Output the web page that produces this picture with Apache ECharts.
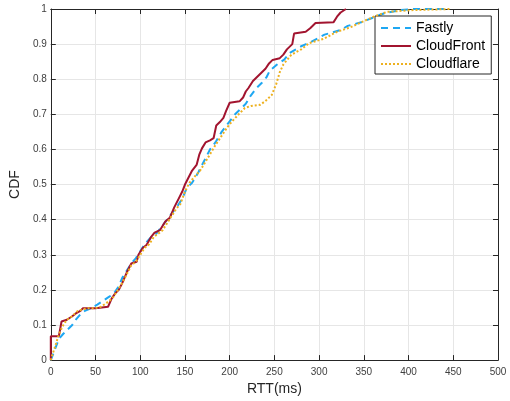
<!DOCTYPE html>
<html>
<head>
<meta charset="utf-8">
<script src="https://cdn.jsdelivr.net/npm/echarts@6/dist/echarts.min.js"></script>
<style>
html,body{margin:0;padding:0;background:#fff;}
#chart{width:510px;height:401px;}
</style>
</head>
<body>
<div id="chart"></div>
<script>
// ---- data (RTT in ms, CDF) ----
const seriesNames = ['Fastly', 'CloudFront', 'Cloudflare'];
const xTicks = [0, 50, 100, 150, 200, 250, 300, 350, 400, 450, 500];
const yTicks = [0, 0.1, 0.2, 0.3, 0.4, 0.5, 0.6, 0.7, 0.8, 0.9, 1];

const fastlyRTT = [0,3,6,9,14,20,24,28,33,38,45,52,58,65,68,72,76,80,85,90,95,100,105,112,118,124,130,136,142,147,152,158,165,171,178,184,191,200,206,212,218,224,230,236,241,245,252,261,267,280,290,306,324,332,347,360,373,391,405,445];
const fastlyCDF = [0,0.02,0.04,0.06,0.075,0.09,0.1,0.115,0.13,0.14,0.148,0.158,0.168,0.18,0.185,0.195,0.21,0.235,0.255,0.275,0.29,0.31,0.33,0.35,0.36,0.38,0.4,0.42,0.44,0.46,0.49,0.505,0.535,0.565,0.6,0.62,0.65,0.68,0.7,0.715,0.73,0.755,0.775,0.79,0.805,0.825,0.84,0.856,0.875,0.894,0.905,0.927,0.94,0.952,0.962,0.975,0.988,0.997,1.0,1.0];

const cloudfrontRTT = [0,0,9,12,18,24,28,33,36,50,52,64,68,72,76,80,85,90,96,98,103,107,112,116,122,128,133,138,143,147,150,154,158,163,166,169,173,178,182,185,189,193,196,200,211,215,218,221,226,230,234,240,244,248,256,260,264,270,272,285,290,296,316,320,324,330];
const cloudfrontCDF = [0,0.068,0.068,0.11,0.115,0.125,0.133,0.14,0.148,0.148,0.152,0.152,0.175,0.19,0.2,0.22,0.25,0.275,0.28,0.3,0.32,0.328,0.35,0.363,0.37,0.395,0.405,0.435,0.46,0.48,0.5,0.52,0.54,0.556,0.585,0.603,0.62,0.626,0.632,0.668,0.678,0.69,0.71,0.733,0.737,0.748,0.765,0.775,0.795,0.805,0.815,0.83,0.845,0.855,0.86,0.87,0.885,0.9,0.93,0.935,0.945,0.96,0.962,0.978,0.99,1.0];

const cloudflareRTT = [0,2,5,8,11,14,18,24,30,36,42,50,56,62,66,70,75,80,85,90,95,100,105,110,115,120,125,130,135,140,145,150,155,160,167,173,184,190,197,202,210,217,224,234,240,247,252,256,260,269,280,289,305,320,335,347,361,376,406,447];
const cloudflareCDF = [0,0.017,0.04,0.065,0.085,0.1,0.115,0.125,0.14,0.145,0.148,0.148,0.152,0.162,0.17,0.18,0.2,0.22,0.245,0.27,0.28,0.3,0.32,0.33,0.35,0.36,0.37,0.39,0.41,0.43,0.445,0.48,0.505,0.52,0.54,0.565,0.612,0.635,0.662,0.678,0.7,0.718,0.724,0.727,0.738,0.755,0.786,0.82,0.842,0.87,0.885,0.903,0.915,0.935,0.948,0.962,0.978,0.992,0.997,1.0];

const colors = ['#1ea7f2', '#a2142f', '#edb120'];

function pairs(xs, ys) { return xs.map((x, i) => [x, ys[i]]); }

const FONT = "'Liberation Sans', Arial, Helvetica, sans-serif";
const axisColor = '#262626';
const gridColor = '#e6e6e6';

const chart = echarts.init(document.getElementById('chart'), null, {renderer: 'canvas'});
chart.setOption({
  animation: false,
  backgroundColor: '#fff',
  textStyle: {fontFamily: FONT},
  grid: {left: 48, right: 12, top: 9, bottom: 37, containLabel: false},
  legend: {
    orient: 'vertical',
    left: 375, top: 16,
    padding: [5, 6, 3, 5],
    itemGap: 4,
    itemWidth: 30,
    itemHeight: 14,
    backgroundColor: '#fff',
    borderColor: axisColor,
    borderWidth: 1,
    borderRadius: 0,
    itemStyle: {opacity: 0},
    textStyle: {fontFamily: FONT, fontSize: 14, color: '#000'},
    data: seriesNames
  },
  xAxis: [{
    type: 'value', min: 0, max: 500, interval: 50,
    name: 'RTT(ms)', nameLocation: 'middle', nameGap: 21,
    nameTextStyle: {fontFamily: FONT, fontSize: 14, color: '#262626'},
    axisLine: {show: true, onZero: false, lineStyle: {color: axisColor, width: 1}},
    axisTick: {show: true, inside: true, length: 5, lineStyle: {color: axisColor}},
    axisLabel: {show: true, margin: 7, fontSize: 10, color: '#404040', fontFamily: FONT,
      formatter: v => xTicks.includes(v) ? String(v) : ''},
    splitLine: {show: true, lineStyle: {color: gridColor, width: 1}}
  }, {
    type: 'value', min: 0, max: 500, interval: 50, position: 'top',
    axisLine: {show: true, onZero: false, lineStyle: {color: axisColor, width: 1}},
    axisTick: {show: true, inside: true, length: 5, lineStyle: {color: axisColor}},
    axisLabel: {show: false},
    splitLine: {show: false}
  }],
  yAxis: [{
    type: 'value', min: 0, max: 1, interval: 0.1,
    name: 'CDF', nameLocation: 'middle', nameGap: 26,
    nameTextStyle: {fontFamily: FONT, fontSize: 14, color: '#262626'},
    axisLine: {show: true, onZero: false, lineStyle: {color: axisColor, width: 1}},
    axisTick: {show: true, inside: true, length: 5, lineStyle: {color: axisColor}},
    axisLabel: {show: true, margin: 4, fontSize: 10, color: '#404040', fontFamily: FONT,
      formatter: v => { const t = yTicks.find(y => Math.abs(y - v) < 1e-9); return t === undefined ? '' : String(t); }},
    splitLine: {show: true, lineStyle: {color: gridColor, width: 1}}
  }, {
    type: 'value', min: 0, max: 1, interval: 0.1, position: 'right',
    axisLine: {show: true, onZero: false, lineStyle: {color: axisColor, width: 1}},
    axisTick: {show: true, inside: true, length: 5, lineStyle: {color: axisColor}},
    axisLabel: {show: false},
    splitLine: {show: false}
  }],
  series: [{
    name: seriesNames[0], type: 'line', symbol: 'none', xAxisIndex: 0, yAxisIndex: 0,
    data: pairs(fastlyRTT, fastlyCDF), z: 3,
    lineStyle: {color: colors[0], width: 2, type: [7, 5]},
    itemStyle: {color: colors[0]}
  }, {
    name: seriesNames[1], type: 'line', symbol: 'none', xAxisIndex: 0, yAxisIndex: 0,
    data: pairs(cloudfrontRTT, cloudfrontCDF), z: 4,
    lineStyle: {color: colors[1], width: 2, type: 'solid'},
    itemStyle: {color: colors[1]}
  }, {
    name: seriesNames[2], type: 'line', symbol: 'none', xAxisIndex: 0, yAxisIndex: 0,
    data: pairs(cloudflareRTT, cloudflareCDF), z: 5,
    lineStyle: {color: colors[2], width: 2, type: [2, 2]},
    itemStyle: {color: colors[2]}
  }]
});
</script>
</body>
</html>
